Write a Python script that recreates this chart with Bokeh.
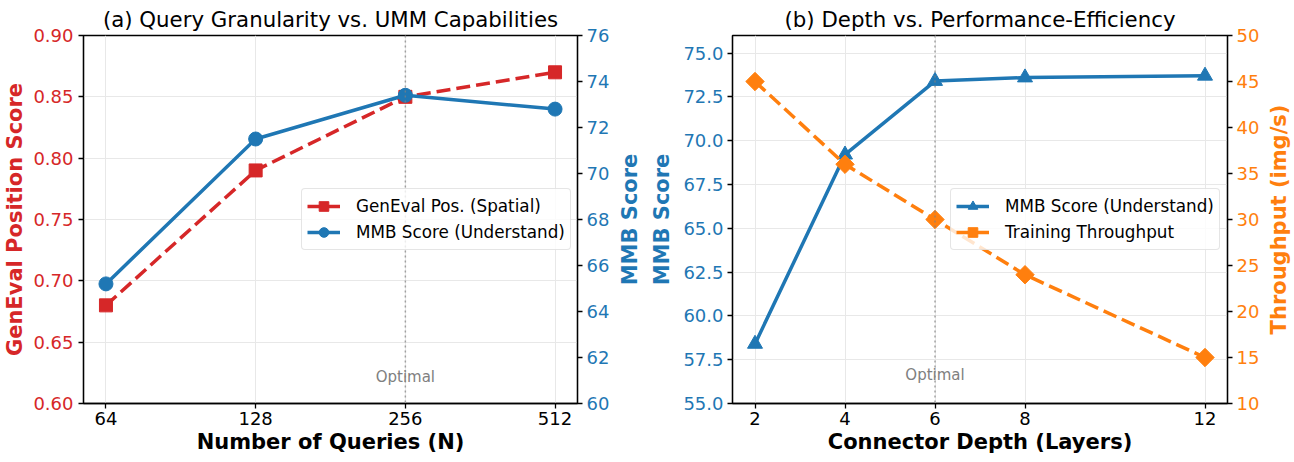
import math
from bokeh.plotting import figure
from bokeh.models import (Range1d, LinearAxis, FixedTicker, NumeralTickFormatter,
                          Span, Label, Legend, LegendItem)
from bokeh.layouts import row
from bokeh.embed import file_html
from bokeh.resources import INLINE

# ---------------- data ----------------
queries = [64, 128, 256, 512]
geneval_pos = [0.68, 0.79, 0.85, 0.87]
mmb_queries = [65.2, 71.5, 73.4, 72.8]

depth = [2, 4, 6, 8, 12]
mmb_depth = [58.4, 69.2, 73.4, 73.6, 73.7]
throughput = [45, 36, 30, 24, 15]

geneval_ticks = [0.60, 0.65, 0.70, 0.75, 0.80, 0.85, 0.90]
mmb_q_ticks = [60, 62, 64, 66, 68, 70, 72, 74, 76]
mmb_d_ticks = [55.0, 57.5, 60.0, 62.5, 65.0, 67.5, 70.0, 72.5, 75.0]
thr_ticks = [10, 15, 20, 25, 30, 35, 40, 45, 50]

RED = "#d62728"
BLUE = "#1f77b4"
ORANGE = "#ff7f0e"
FONT = "DejaVu Sans"
GRID = "#e8e8e8"

FRAME_H = 368
TOP = 27
BOTTOM = 51


def style_axis(ax, color, label, fmt, ticks, standoff, lab_standoff=4):
    ax.ticker = FixedTicker(ticks=ticks)
    ax.formatter = NumeralTickFormatter(format=fmt)
    ax.axis_label = label
    ax.major_label_text_color = color
    ax.major_label_text_font = FONT
    ax.major_label_text_font_size = "18px"
    ax.axis_label_text_color = color
    ax.axis_label_text_font = FONT
    ax.axis_label_text_font_style = "bold"
    ax.axis_label_text_font_size = "21px"
    ax.axis_label_standoff = standoff
    ax.axis_line_color = "black"
    ax.axis_line_width = 1.3
    ax.major_tick_line_color = "black"
    ax.major_tick_line_width = 1.3
    ax.major_tick_out = 5
    ax.major_tick_in = 0
    ax.minor_tick_line_color = None
    ax.major_label_standoff = lab_standoff


def label_only_axis(ax, color, label, standoff):
    # an axis that shows only its (bottom-to-top) label
    ax.ticker = FixedTicker(ticks=[])
    ax.axis_label = label
    ax.axis_label_text_color = color
    ax.axis_label_text_font = FONT
    ax.axis_label_text_font_style = "bold"
    ax.axis_label_text_font_size = "21px"
    ax.axis_label_standoff = standoff
    ax.axis_line_color = None
    ax.major_tick_line_color = None
    ax.minor_tick_line_color = None
    ax.major_tick_out = 0
    ax.major_tick_in = 0
    ax.major_label_standoff = 0


def style_fig(p, title):
    p.title.text = title
    p.title.align = "center"
    p.title.text_font = FONT
    p.title.text_font_size = "21.3px"
    p.title.text_font_style = "normal"
    p.title.text_color = "black"
    p.title.standoff = 8
    p.outline_line_color = "black"
    p.outline_line_width = 1.3
    p.xgrid.grid_line_color = GRID
    p.ygrid.grid_line_color = GRID
    p.xgrid.grid_line_width = 1
    p.ygrid.grid_line_width = 1
    p.background_fill_color = "white"
    p.border_fill_color = "white"


def style_legend(lg):
    lg.label_text_font = FONT
    lg.label_text_font_size = "16.8px"
    lg.label_text_color = "black"
    lg.glyph_width = 33
    lg.glyph_height = 24
    lg.label_height = 20
    lg.label_standoff = 16
    lg.padding = 5
    lg.spacing = 2
    lg.margin = 0
    lg.border_line_color = "#cccccc"
    lg.border_line_width = 1
    lg.border_radius = 4
    lg.background_fill_color = "white"
    lg.background_fill_alpha = 0.8


# ---------------- (a) ----------------
p1 = figure(frame_width=494, frame_height=FRAME_H, x_axis_type="log",
            x_range=Range1d(queries[0] / 2 ** 0.15, queries[-1] * 2 ** 0.15),
            y_range=Range1d(0.60, 0.90),
            output_backend="svg", toolbar_location=None,
            min_border_left=79, min_border_right=37,
            min_border_top=TOP, min_border_bottom=BOTTOM)
style_fig(p1, "(a) Query Granularity vs. UMM Capabilities")
p1.extra_y_ranges = {"mmb": Range1d(60, 76)}
ax1r = LinearAxis(y_range_name="mmb")
p1.add_layout(ax1r, "right")

style_axis(p1.xaxis[0], "black", "Number of Queries (N)", "0", queries, 2, 3)
style_axis(p1.yaxis[0], RED, "GenEval Position Score", "0.00", geneval_ticks, 3, 5)
style_axis(ax1r, BLUE, None, "0", mmb_q_ticks, 4)
p1.xgrid.ticker = FixedTicker(ticks=queries)
p1.ygrid.ticker = FixedTicker(ticks=geneval_ticks)

p1.add_layout(Span(location=queries[2], dimension="height", line_color="gray",
                   line_alpha=0.7, line_dash="2 3", line_width=1.5))
p1.add_layout(Label(x=queries[2], y=0.622, text="Optimal", text_align="center",
                    text_baseline="middle", text_color="gray", text_font=FONT,
                    text_font_size="15px"))

r1 = p1.line(queries, geneval_pos, line_color=RED, line_width=3.5, line_dash="14 6")
s1 = p1.scatter(queries, geneval_pos, marker="square", size=13, color=RED)
r2 = p1.line(queries, mmb_queries, y_range_name="mmb", line_color=BLUE, line_width=3.5)
s2 = p1.scatter(queries, mmb_queries, y_range_name="mmb", marker="circle", size=14, color=BLUE)

lg1 = Legend(items=[LegendItem(label="GenEval Pos. (Spatial)", renderers=[r1, s1]),
                    LegendItem(label="MMB Score (Understand)", renderers=[r2, s2])],
             location=(218, 153))
style_legend(lg1)
p1.add_layout(lg1)

# ---------------- (b) ----------------
p2 = figure(frame_width=495, frame_height=FRAME_H,
            x_range=Range1d(1.5, 12.5), y_range=Range1d(55, 76),
            output_backend="svg", toolbar_location=None,
            min_border_left=111, min_border_right=36,
            min_border_top=TOP, min_border_bottom=BOTTOM)
style_fig(p2, "(b) Depth vs. Performance-Efficiency")
p2.extra_y_ranges = {"thr": Range1d(10, 50)}
ax2r = LinearAxis(y_range_name="thr")
p2.add_layout(ax2r, "right")

style_axis(p2.xaxis[0], "black", "Connector Depth (Layers)", "0", depth, 2, 3)
style_axis(p2.yaxis[0], BLUE, "MMB Score", "0.0", mmb_d_ticks, 6)
style_axis(ax2r, ORANGE, None, "0", thr_ticks, 6)
p2.xgrid.ticker = FixedTicker(ticks=depth)
p2.ygrid.ticker = FixedTicker(ticks=mmb_d_ticks)

# right-hand label of panel (a), drawn as an outer left axis of panel (b)
ax_a_right_label = LinearAxis(y_range_name="default")
label_only_axis(ax_a_right_label, BLUE, "MMB Score", 6)
p2.add_layout(ax_a_right_label, "left")

p2.add_layout(Span(location=depth[2], dimension="height", line_color="gray",
                   line_alpha=0.7, line_dash="2 3", line_width=1.5))
p2.add_layout(Label(x=depth[2], y=56.6, text="Optimal", text_align="center",
                    text_baseline="middle", text_color="gray", text_font=FONT,
                    text_font_size="15px"))

r3 = p2.line(depth, mmb_depth, line_color=BLUE, line_width=3.5)
s3 = p2.scatter(depth, mmb_depth, marker="triangle", size=15, color=BLUE)
r4 = p2.line(depth, throughput, y_range_name="thr", line_color=ORANGE, line_width=3.5,
             line_dash="14 6")
s4 = p2.scatter(depth, throughput, y_range_name="thr", marker="square", angle=math.pi / 4,
                size=13, color=ORANGE)

lg2 = Legend(items=[LegendItem(label="MMB Score (Understand)", renderers=[r3, s3]),
                    LegendItem(label="Training Throughput", renderers=[r4, s4])],
             location=(218, 153))
style_legend(lg2)
p2.add_layout(lg2)

# ---------------- label strip for the right axis of (b) ----------------
p3 = figure(frame_width=1, frame_height=FRAME_H, x_range=Range1d(0, 1),
            y_range=Range1d(10, 50), x_axis_location=None,
            output_backend="svg", toolbar_location=None,
            min_border_left=26, min_border_right=0,
            min_border_top=TOP, min_border_bottom=BOTTOM)
p3.outline_line_color = None
p3.xgrid.visible = False
p3.ygrid.visible = False
p3.background_fill_color = "white"
p3.border_fill_color = "white"
label_only_axis(p3.yaxis[0], ORANGE, "Throughput (img/s)", 0)

layout = row(p1, p2, p3)
open("out.html", "w").write(file_html(layout, INLINE))
